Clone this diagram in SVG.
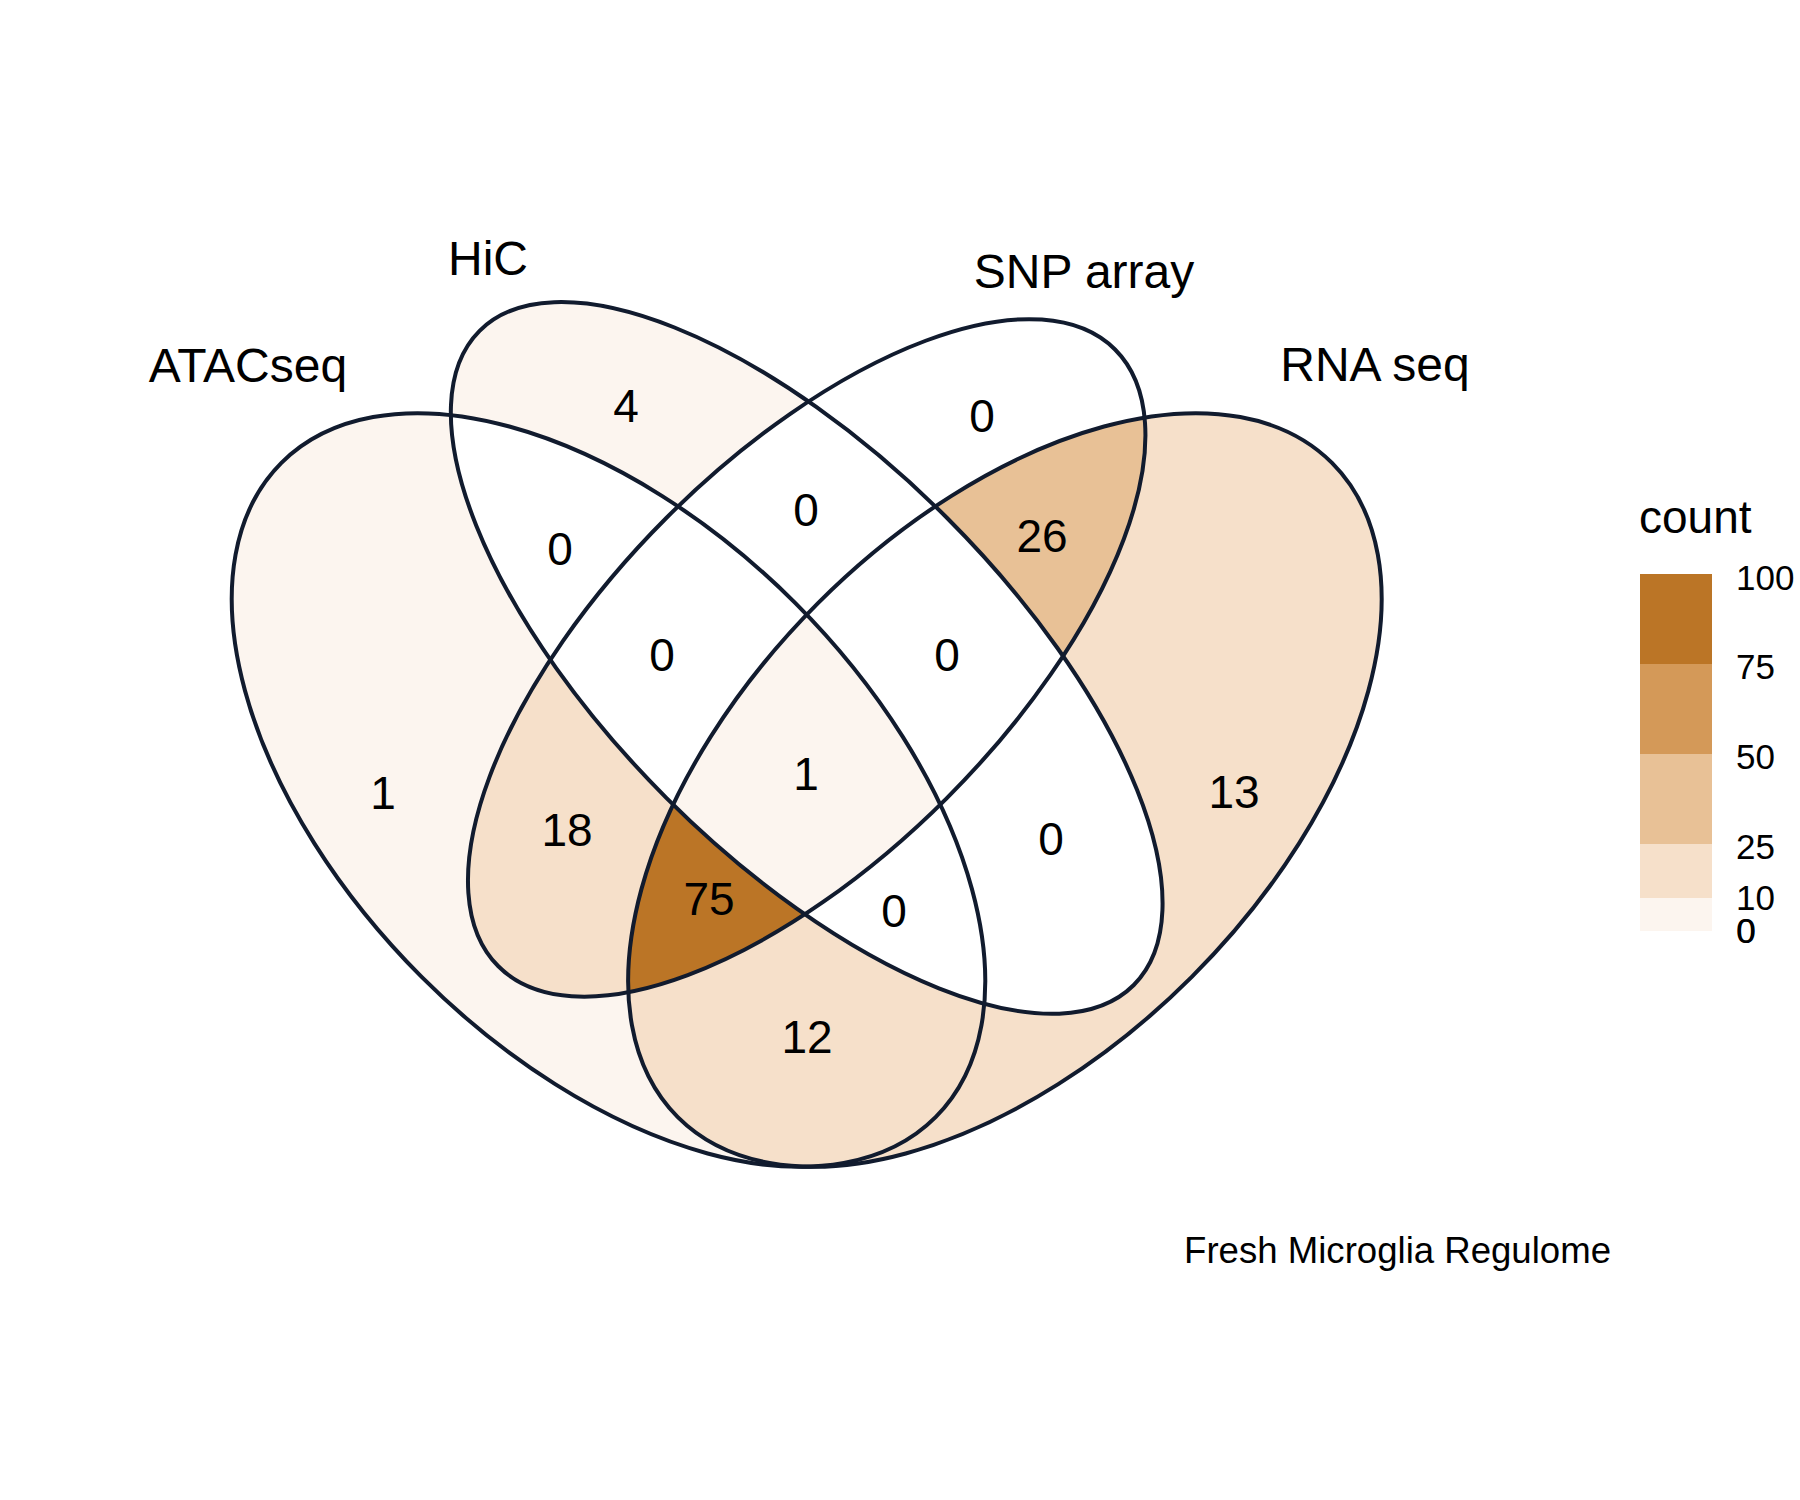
<svg xmlns="http://www.w3.org/2000/svg" xmlns:xlink="http://www.w3.org/1999/xlink" width="1800" height="1500" viewBox="0 0 1800 1500">
<style>
.lbl{font-family:"Liberation Sans",Arial,sans-serif;font-size:46px;fill:#000;text-anchor:middle}
.set{font-family:"Liberation Sans",Arial,sans-serif;font-size:48px;fill:#000;text-anchor:middle}
.leg{font-family:"Liberation Sans",Arial,sans-serif;font-size:35px;fill:#000}
.edge{fill:none;stroke:#111B2E;stroke-width:4}
</style>
<defs>
<ellipse id="eA" cx="608.5" cy="790" rx="462.6" ry="264.3" transform="rotate(45 608.5 790)"/>
<ellipse id="eH" cx="806.7" cy="657.9" rx="462.6" ry="198.2" transform="rotate(45 806.7 657.9)"/>
<ellipse id="eS" cx="806.7" cy="657.9" rx="436.1" ry="198.2" transform="rotate(-45 806.7 657.9)"/>
<ellipse id="eR" cx="1004.9" cy="790" rx="462.6" ry="264.3" transform="rotate(-45 1004.9 790)"/>
<clipPath id="cA"><use xlink:href="#eA"/></clipPath>
<clipPath id="cH"><use xlink:href="#eH"/></clipPath>
<clipPath id="cS"><use xlink:href="#eS"/></clipPath>
<clipPath id="cR"><use xlink:href="#eR"/></clipPath>
<mask id="mHSR" maskUnits="userSpaceOnUse" x="0" y="0" width="1800" height="1500"><rect width="1800" height="1500" fill="#fff"/><use xlink:href="#eH" fill="#000"/><use xlink:href="#eS" fill="#000"/><use xlink:href="#eR" fill="#000"/></mask>
<mask id="mASR" maskUnits="userSpaceOnUse" x="0" y="0" width="1800" height="1500"><rect width="1800" height="1500" fill="#fff"/><use xlink:href="#eA" fill="#000"/><use xlink:href="#eS" fill="#000"/><use xlink:href="#eR" fill="#000"/></mask>
<mask id="mAHS" maskUnits="userSpaceOnUse" x="0" y="0" width="1800" height="1500"><rect width="1800" height="1500" fill="#fff"/><use xlink:href="#eA" fill="#000"/><use xlink:href="#eH" fill="#000"/><use xlink:href="#eS" fill="#000"/></mask>
<mask id="mAH" maskUnits="userSpaceOnUse" x="0" y="0" width="1800" height="1500"><rect width="1800" height="1500" fill="#fff"/><use xlink:href="#eA" fill="#000"/><use xlink:href="#eH" fill="#000"/></mask>
<mask id="mHR" maskUnits="userSpaceOnUse" x="0" y="0" width="1800" height="1500"><rect width="1800" height="1500" fill="#fff"/><use xlink:href="#eH" fill="#000"/><use xlink:href="#eR" fill="#000"/></mask>
<mask id="mH" maskUnits="userSpaceOnUse" x="0" y="0" width="1800" height="1500"><rect width="1800" height="1500" fill="#fff"/><use xlink:href="#eH" fill="#000"/></mask>
<mask id="mHS" maskUnits="userSpaceOnUse" x="0" y="0" width="1800" height="1500"><rect width="1800" height="1500" fill="#fff"/><use xlink:href="#eH" fill="#000"/><use xlink:href="#eS" fill="#000"/></mask>
</defs>
<rect width="1800" height="1500" fill="#fff"/>
<g id="regions">
<g id="r-A" clip-path="url(#cA)"><rect width="1800" height="1500" fill="#FCF5EF" mask="url(#mHSR)"/></g>
<g id="r-H" clip-path="url(#cH)"><rect width="1800" height="1500" fill="#FCF5EF" mask="url(#mASR)"/></g>
<g id="r-R" clip-path="url(#cR)"><rect width="1800" height="1500" fill="#F6E0CA" mask="url(#mAHS)"/></g>
<g id="r-SR" clip-path="url(#cS)"><g clip-path="url(#cR)"><rect width="1800" height="1500" fill="#E8C196" mask="url(#mAH)"/></g></g>
<g id="r-AS" clip-path="url(#cA)"><g clip-path="url(#cS)"><rect width="1800" height="1500" fill="#F6E0CA" mask="url(#mHR)"/></g></g>
<g id="r-ASR" clip-path="url(#cA)"><g clip-path="url(#cS)"><g clip-path="url(#cR)"><rect width="1800" height="1500" fill="#BB7526" mask="url(#mH)"/></g></g></g>
<g id="r-AR" clip-path="url(#cA)"><g clip-path="url(#cR)"><rect width="1800" height="1500" fill="#F6E0CA" mask="url(#mHS)"/></g></g>
<g id="r-AHSR" clip-path="url(#cA)"><g clip-path="url(#cH)"><g clip-path="url(#cS)"><g clip-path="url(#cR)"><rect width="1800" height="1500" fill="#FCF5EF"/></g></g></g></g>
</g>
<g id="connectors">
<use xlink:href="#eA" class="edge"/>
<use xlink:href="#eH" class="edge"/>
<use xlink:href="#eS" class="edge"/>
<use xlink:href="#eR" class="edge"/>
</g>
<g id="set-labels">
<text id="set-atac" class="set" x="248" y="382">ATACseq</text>
<text id="set-hic" class="set" x="488" y="275">HiC</text>
<text id="set-snp" class="set" x="1084" y="288">SNP array</text>
<text id="set-rna" class="set" x="1375" y="381">RNA seq</text>
</g>
<g id="counts">
<text class="lbl" x="383" y="809">1</text>
<text class="lbl" x="626" y="422">4</text>
<text class="lbl" x="982" y="432">0</text>
<text class="lbl" x="1234" y="808">13</text>
<text class="lbl" x="560" y="565">0</text>
<text class="lbl" x="806" y="526">0</text>
<text class="lbl" x="1042" y="552">26</text>
<text class="lbl" x="662" y="671">0</text>
<text class="lbl" x="947" y="671">0</text>
<text class="lbl" x="806" y="790">1</text>
<text class="lbl" x="567" y="846">18</text>
<text class="lbl" x="709" y="915">75</text>
<text class="lbl" x="894" y="927">0</text>
<text class="lbl" x="1051" y="855">0</text>
<text class="lbl" x="807" y="1053">12</text>
</g>
<g id="legend">
<text class="leg" x="1639" y="533" style="font-size:46px">count</text>
<rect x="1640" y="574" width="72" height="90" fill="#BB7526"/>
<rect x="1640" y="664" width="72" height="90" fill="#D49958"/>
<rect x="1640" y="754" width="72" height="90" fill="#E8C196"/>
<rect x="1640" y="844" width="72" height="54" fill="#F6E0CA"/>
<rect x="1640" y="898" width="72" height="33" fill="#FCF5EF"/>
<text class="leg" x="1736" y="590">100</text>
<text class="leg" x="1736" y="679">75</text>
<text class="leg" x="1736" y="769">50</text>
<text class="leg" x="1736" y="859">25</text>
<text class="leg" x="1736" y="910">10</text>
<text class="leg" x="1736" y="943">0</text>
<text class="leg" x="1736.6" y="943">0</text>
</g>
<text id="caption" x="1611" y="1263" style="font-family:'Liberation Sans',Arial,sans-serif;font-size:36.6px;text-anchor:end">Fresh Microglia Regulome</text>
</svg>
